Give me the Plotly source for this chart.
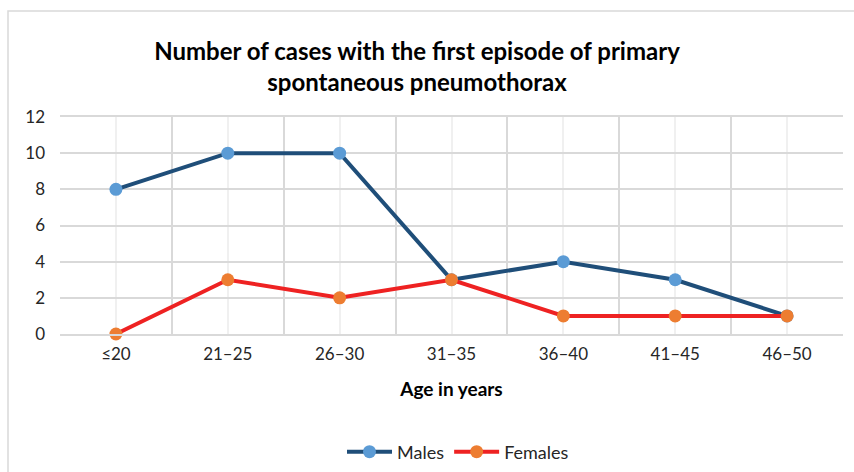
import plotly.graph_objects as go

categories = ["≤20", "21–25", "26–30", "31–35", "36–40", "41–45", "46–50"]
males = [8, 10, 10, 3, 4, 3, 1]
females = [0, 3, 2, 3, 1, 1, 1]
y_ticks = [0, 2, 4, 6, 8, 10, 12]

FONT = "Lato, 'Open Sans', sans-serif"
xpos = list(range(len(categories)))

fig = go.Figure()
fig.add_trace(go.Scatter(
    x=xpos, y=males, name="Males", mode="lines+markers",
    line=dict(color="#1f4e79", width=4),
    marker=dict(color="#5b9bd5", size=13),
    cliponaxis=False,
))
fig.add_trace(go.Scatter(
    x=xpos, y=females, name="Females", mode="lines+markers",
    line=dict(color="#ee2222", width=4),
    marker=dict(color="#ed7d31", size=13),
    cliponaxis=False,
))

W, H = 854, 472
L, R, T, B = 60, 11, 117, 138
pw = W - L - R
ph = H - T - B

def px(x):
    return (x - L) / pw

def py(y):
    return (H - B - y) / ph

fig.update_layout(
    width=W, height=H,
    margin=dict(l=L, r=R, t=T, b=B, autoexpand=False),
    paper_bgcolor="white", plot_bgcolor="white",
    font=dict(family=FONT, size=17, color="#262626"),
    title=dict(
        text="<b>Number of cases with the first episode of primary<br>spontaneous pneumothorax</b>",
        x=px(417), xref="paper", xanchor="center",
        y=1 - 60 / H, yref="container", yanchor="middle",
        font=dict(family=FONT, size=24, color="#000000"),
        automargin=False,
    ),
    showlegend=True,
    legend=dict(
        orientation="h", x=px(458), xanchor="center", y=py(452), yanchor="middle",
        font=dict(family=FONT, size=18, color="#262626"),
        itemwidth=45,
    ),
    shapes=[dict(
        type="rect", xref="paper", yref="paper",
        x0=px(8), x1=px(900), y0=py(520), y1=py(11),
        line=dict(color="#d9d9d9", width=1.5), fillcolor="rgba(0,0,0,0)",
        layer="below",
    )],
)

fig.update_xaxes(
    range=[-0.5, len(categories) - 0.5],
    tickmode="array", tickvals=xpos, ticktext=categories,
    showgrid=True, gridcolor="#f0f0f0", gridwidth=1.5,
    minor=dict(tickmode="linear", tick0=0.5, dtick=1, showgrid=True,
               gridcolor="#d9d9d9", gridwidth=1.5),
    showline=True, linecolor="#d9d9d9", linewidth=1.5, mirror=True,
    zeroline=False, ticks="", ticklabelstandoff=4, automargin=False,
    tickfont=dict(family=FONT, size=17, color="#262626"),
    title=dict(text="<b>Age in years</b>", standoff=20,
               font=dict(family=FONT, size=19, color="#000000")),
)
fig.update_yaxes(
    range=[0, 12], tickmode="array", tickvals=y_ticks,
    showgrid=True, gridcolor="#d9d9d9", gridwidth=1.5,
    showline=False, zeroline=False, ticks="", ticklabelstandoff=14,
    automargin=False,
    tickfont=dict(family=FONT, size=17, color="#262626"),
)

fig.write_html("out.html", config={"displayModeBar": False},
               post_script="document.body.style.margin='0';")
